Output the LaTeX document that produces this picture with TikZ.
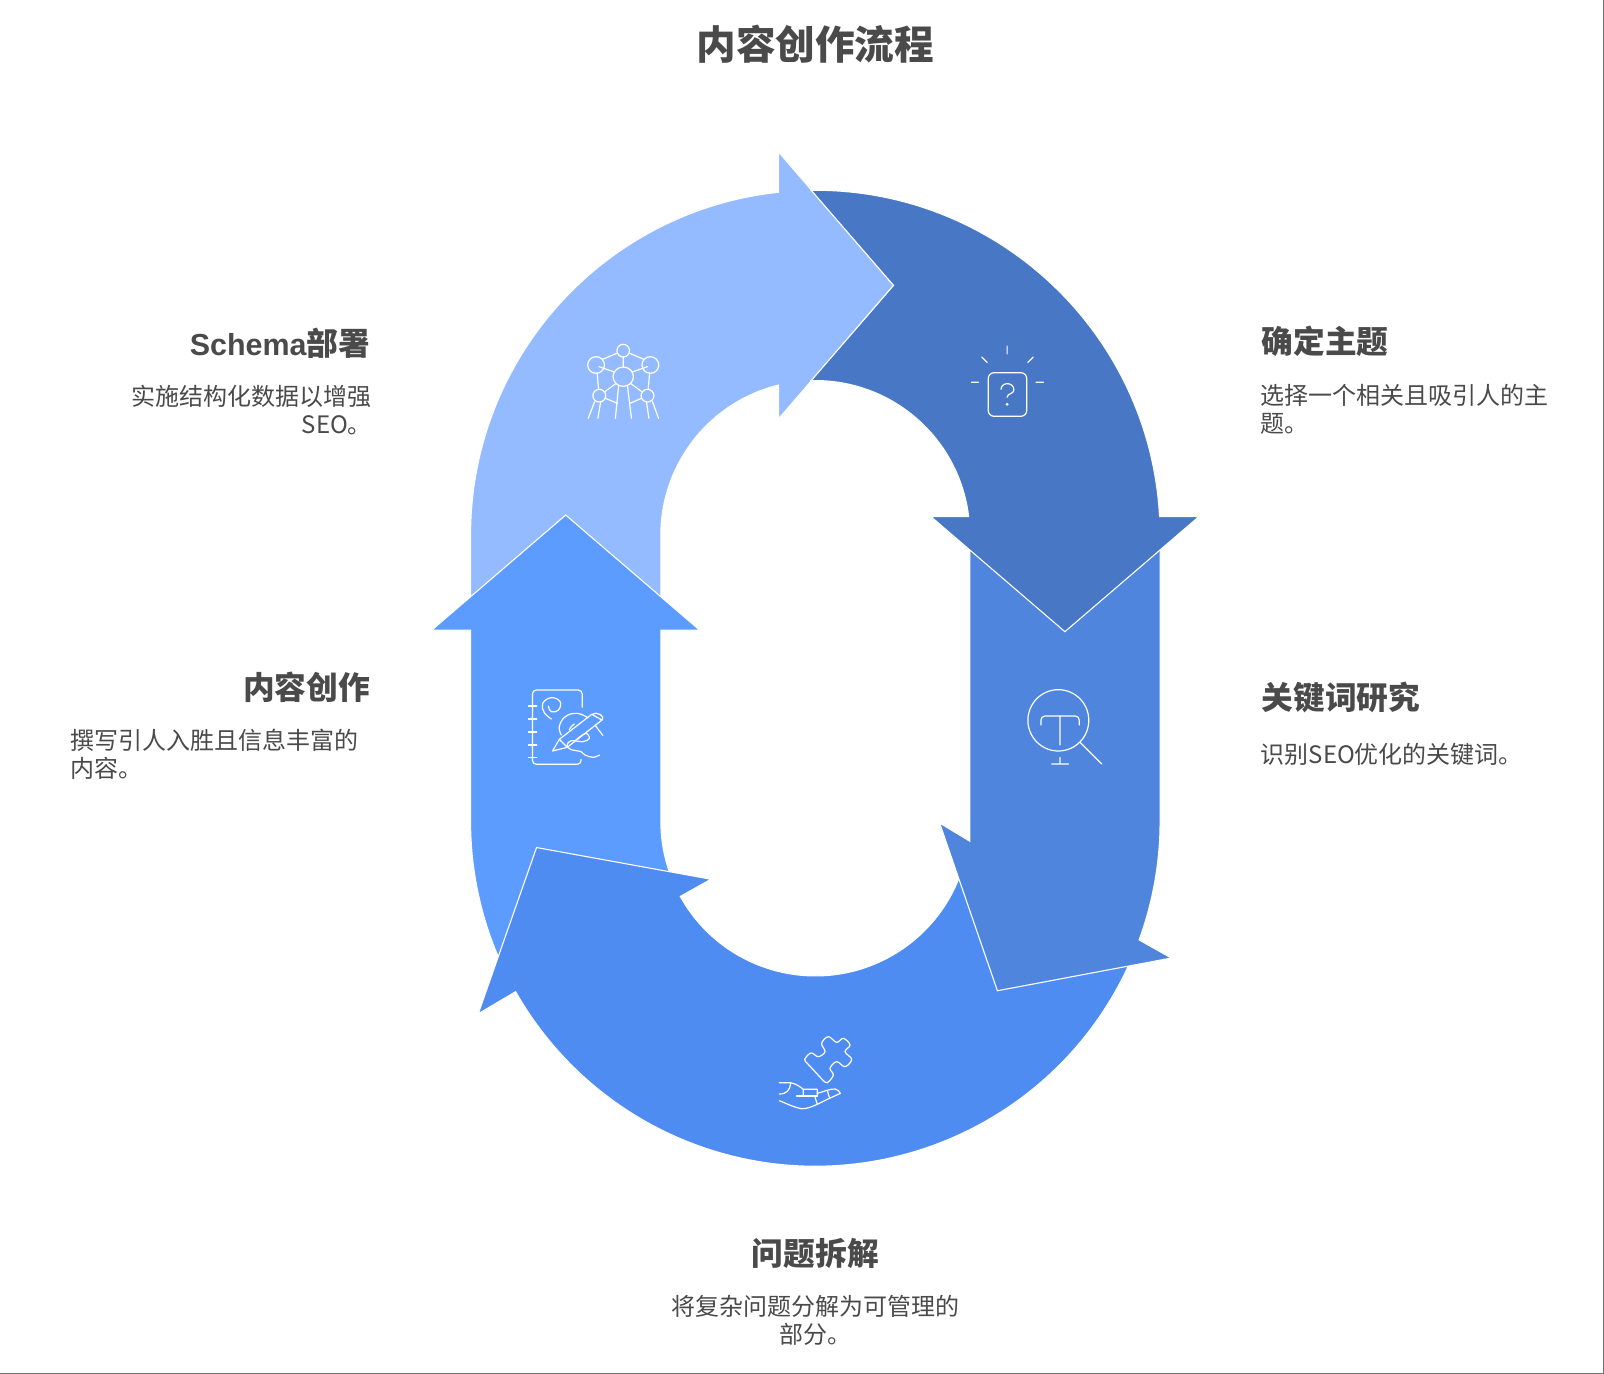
\documentclass[tikz,border=0pt]{standalone}
\usepackage{fontspec}
\setmainfont{Noto Sans CJK SC}
\newfontfamily\latbold[Scale=0.96]{Liberation Sans Bold}
\definecolor{cLight}{HTML}{94BBFF}
\definecolor{cDark}{HTML}{4877C5}
\definecolor{cRight}{HTML}{4F85DD}
\definecolor{cBottom}{HTML}{4F8CF2}
\definecolor{cLeft}{HTML}{5C9BFF}
\definecolor{cText}{HTML}{4A4A4A}
\tikzset{
  arrowshape/.style={draw=white,line width=0.55pt,line join=miter},
  icon/.style={draw=white,line width=0.6pt,line cap=round,line join=round},
  ttl/.style={text=cText,inner sep=0pt,font=\fontsize{19.8}{24}\selectfont\bfseries},
  head/.style={text=cText,inner sep=0pt,font=\fontsize{15.85}{19}\selectfont\bfseries},
  body/.style={text=cText,inner sep=0pt,font=\fontsize{12}{13.9}\selectfont},
}
\begin{document}
\begin{tikzpicture}[x=0.5pt,y=-0.5pt]
\useasboundingbox (0,0) rectangle (1604,1374);
\fill[white] (0,0) rectangle (1604,1374);
\fill[black!55] (1602.6,0) rectangle (1604,1374);
\fill[black!55] (0,1372.6) rectangle (1604,1374);
\begin{scope}[scale=1.02296]
% light arrow
\path[arrowshape,fill=cLight] (460,610) -- (460,523) arc (180:263.87:337) -- (761,148.5) -- (873.5,279) -- (761,409.5) -- (761,376.4) arc (256.21:180:151) -- (646,610) -- cycle;
% left arrow
\path[arrowshape,fill=cLeft] (646,616) -- (684,616) -- (553,503.5) -- (422,616) -- (460,616) -- (460,803) arc (180:155:337) -- (660.15,866.8) arc (155:180:151) -- cycle;
% bottom arrow
\path[arrowshape,fill=cBottom] (1109.5,929.2) arc (22:150.4:337) -- (467.5,991) -- (524.5,828.5) -- (695,859.5) -- (665,876.3) arc (150.96:20:151) -- cycle;
% right arrow
\path[arrowshape,fill=cRight] (948,530) -- (948,822.3) -- (918.5,804.5) -- (975,968.5) -- (1145,936.5) -- (1113.5,918.8) arc (20.1:0:337) -- (1134,530) -- cycle;
% dark arrow
\path[arrowshape,fill=cDark] (793,186.02) arc (269.32:356.94:337) -- (1172,505) -- (1041,617.5) -- (910,505) -- (946.9,505) arc (353.15:268.48:151) -- (873.5,279) -- cycle;
% texts
\node[ttl] (title) at (797,43) {内容创作流程};
\node[head,anchor=west] (h1) at (1233,334) {确定主题};
\node[body,anchor=west,align=left] (b1) at (1232,400.5) {选择一个相关且吸引人的主\\题。};
\node[head,anchor=west] (h2) at (1233,682) {关键词研究};
\node[body,anchor=west] (b2) at (1232,737) {识别SEO优化的关键词。};
\node[head] (h3) at (797,1225) {问题拆解};
\node[body,align=center] (b3) at (797,1291) {将复杂问题分解为可管理的\\部分。};
\node[head,anchor=east] (h4) at (362,672) {内容创作};
\node[body,anchor=west,align=left] (b4) at (68.5,737.5) {撰写引人入胜且信息丰富的\\内容。};
\node[head,anchor=east] (h5) at (362,336) {{\latbold Schema}部署};
\node[body,anchor=east,align=right] (b5) at (364,401) {实施结构化数据以增强\\SEO。};
\end{scope}
% atomium icon and question icon
\begin{scope}[shift={(540,320)},xscale=1/2.8,yscale=1/3]
\draw[icon] (233,92) ellipse (17.5 and 19) (157,135) ellipse (23.5 and 25) (309,135) ellipse (23.5 and 25) (233,170) ellipse (28.5 and 29) (166,227) ellipse (18 and 19) (301,227) ellipse (18 and 19);
\draw[icon] (215,100)--(175,118) (251,100)--(291,118) (233,110)--(233,142) (165,140)--(208,156) (301,140)--(258,156) (160,158)--(164,208) (307,158)--(303,208) (213,190)--(183,214) (253,190)--(284,214) (183,235)--(217,250) (284,235)--(252,250) (220,198)--(211,295) (245,198)--(256,295) (153,245)--(135,295) (170,245)--(162,295) (298,245)--(305,295) (315,245)--(332,295);
\draw[icon,rounded corners=3pt] (1255,158) rectangle (1363,289);
\draw[icon] (1308,78)--(1308,102) (1237,111)--(1252,127) (1381,111)--(1366,127) (1208,187)--(1228,187) (1389,187)--(1410,187);
\draw[icon] (1291,208) .. controls (1291,185) and (1327,185) .. (1327,210) .. controls (1327,222) and (1308,220) .. (1308,232);
\fill[white] (1308,253) ellipse (4.5 and 4.5);
\end{scope}
% notebook and magnifier
\begin{scope}[shift={(500,670)},xscale=1/2.529,yscale=1/3]
\draw[icon,rounded corners=2pt] (208,112) -- (208,60) -- (82,60) -- (82,283) -- (205,283) -- (205,268);
\draw[icon] (72,108)--(93,108) (72,147)--(93,147) (72,186)--(93,186) (72,225)--(93,225) (72,262)--(93,262);
\draw[icon] plot[smooth,tension=0.7] coordinates {(130,147) (112,128) (108,100) (130,83) (152,95) (148,120) (130,125) (122,108)};
\draw[icon] (133,243) -- (150,208) -- (232,133) .. controls (245,122) and (268,140) .. (258,150) -- (170,232) -- cycle (150,208) -- (170,232) (232,133) -- (258,150) (240,165) -- (260,196);
\draw[icon] plot[smooth,tension=0.7] coordinates {(155,195) (150,170) (165,140) (195,130) (222,143)};
\draw[icon] plot[smooth,tension=0.7] coordinates {(175,180) (180,170) (188,162)};
\draw[icon] plot[smooth,tension=0.6] coordinates {(190,212) (216,190) (226,205) (210,215) (180,212) (170,225) (178,238) (205,245) (215,255) (235,262) (252,255)};
\draw[icon] (1412,151) ellipse (77 and 92);
\draw[icon,rounded corners=2pt] (1368,165) -- (1368,138) -- (1465,138) -- (1465,165);
\draw[icon] (1416,138)--(1416,225) (1416,262)--(1416,282) (1395,282)--(1438,282) (1468,218)--(1522,282);
\end{scope}
% puzzle hand
\begin{scope}[shift={(740,1010)},scale=1/3]
\draw[icon] plot[smooth,tension=0.6] coordinates {(200,158) (194,148) (213,129) (235,140) (255,125) (245,100) (265,80) (290,97) (310,85) (330,105) (315,125) (335,148) (315,170) (290,155) (270,175) (280,195) (262,218) (250,212)} -- (200,158);
\draw[icon] (118,218) -- (150,218) .. controls (165,220) and (178,228) .. (190,238) -- (232,238) -- (232,258) (190,238) -- (190,258);
\draw[icon] (118,252) .. controls (140,252) and (150,240) .. (152,220);
\draw[icon,line width=0.8pt] (170,258) -- (232,258);
\draw[icon] (225,262) -- (232,283);
\draw[icon] (232,250) .. controls (250,245) and (270,236) .. (285,237) .. controls (293,238) and (298,244) .. (301,250) -- (262,268) -- (232,283) .. controls (215,290) and (200,297) .. (185,296) .. controls (165,293) and (140,281) .. (118,272);
\draw[icon] (262,242) -- (268,262);
\end{scope}
\end{tikzpicture}
\end{document}
